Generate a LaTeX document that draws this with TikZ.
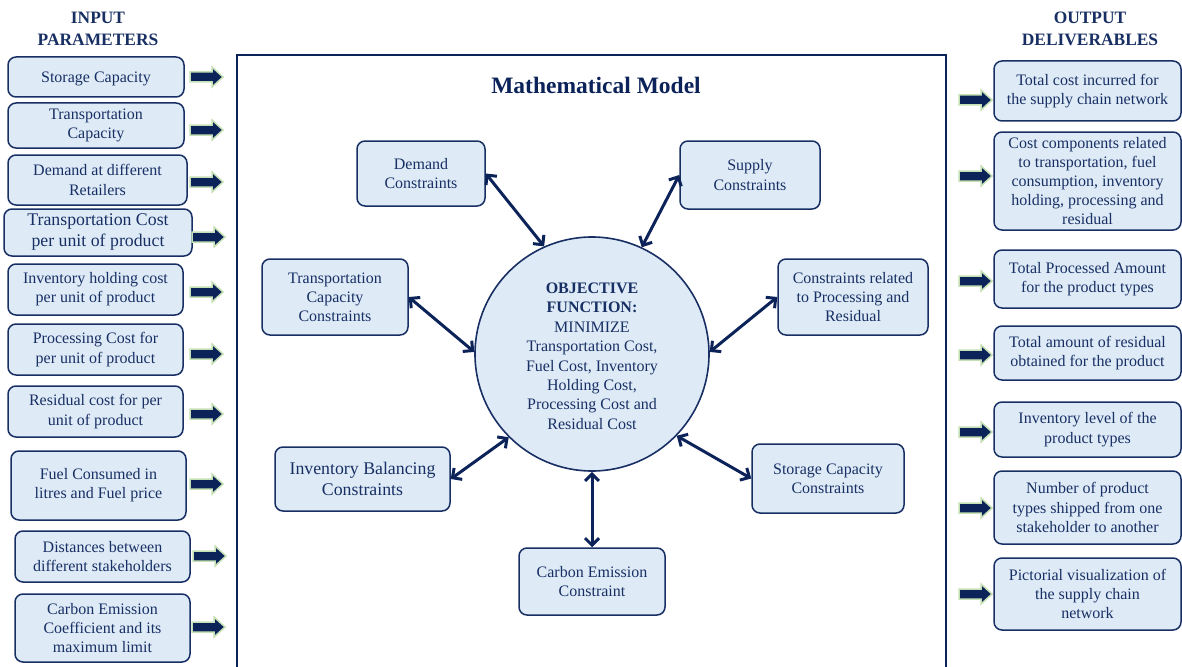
\documentclass[tikz,border=0pt]{standalone}
\usepackage{fontspec}
\setmainfont{Liberation Serif}
\usetikzlibrary{arrows.meta}
\definecolor{navy}{RGB}{24,47,100}
\definecolor{darknavy}{RGB}{12,35,90}
\definecolor{frameblue}{RGB}{12,35,90}
\definecolor{boxfill}{RGB}{222,235,247}
\definecolor{pgreen}{RGB}{197,224,180}
\tikzset{
  box/.style={rounded corners=8pt, draw=navy, fill=boxfill, line width=1.5pt, text=navy, align=center,
    inner sep=0pt, font=\fontsize{16}{19.2}\selectfont, execute at begin node={\rule{0pt}{15pt}}},
  bigbox/.style={box, font=\fontsize{17.8}{21}\selectfont},
  title/.style={text=navy, align=center, font=\bfseries\fontsize{17.4}{21.5}\selectfont},
  conn/.style={draw=darknavy, line width=3pt, {Straight Barb[length=7pt,width=14pt,line width=3pt]}-{Straight Barb[length=7pt,width=14pt,line width=3pt]}},
  blockarr/.pic={\path[fill=darknavy,draw=pgreen,line width=1.5pt,line join=miter]
     (0,-5) -- (22,-5) -- (22,-10) -- (33,0) -- (22,10) -- (22,5) -- (0,5) -- cycle;}
}
\begin{document}
\begin{tikzpicture}[x=1pt,y=-1pt]
\clip (0,0) rectangle (1182,666);
\fill[white] (0,0) rectangle (1182,666);

% frame
\draw[frameblue, line width=2.8pt] (237,700) -- (237,55) -- (946,55) -- (946,700);
\node[text=darknavy, font=\bfseries\fontsize{23.5}{28}\selectfont] (mm) at (596,85) {Mathematical Model};

% titles
\node[title] (tin) at (98,29) {INPUT\\PARAMETERS};
\node[title] (tout) at (1090,29) {OUTPUT\\DELIVERABLES};

% input boxes
\node[box, minimum width=176pt, minimum height=40pt] (i1) at (96,77) {Storage Capacity};
\node[box, minimum width=176pt, minimum height=45pt] (i2) at (96,125.5) {Transportation\\Capacity};
\node[box, minimum width=179pt, minimum height=50pt] (i3) at (97.5,180) {Demand at different\\Retailers};
\node[bigbox, minimum width=188pt, minimum height=47pt] (i4) at (98,232.5) {Transportation Cost\\per unit of product};
\node[box, minimum width=175pt, minimum height=51pt] (i5) at (95.5,289.5) {Inventory holding cost\\per unit of product};
\node[box, minimum width=175pt, minimum height=51pt] (i6) at (95.5,349.5) {Processing Cost for\\per unit of product};
\node[box, minimum width=175pt, minimum height=51pt] (i7) at (95.5,411.5) {Residual cost for per\\unit of product};
\node[box, minimum width=175pt, minimum height=69pt] (i8) at (98.5,485.5) {Fuel Consumed in\\litres and Fuel price};
\node[box, minimum width=175pt, minimum height=51pt] (i9) at (102.5,556.5) {Distances between\\different stakeholders};
\node[box, minimum width=175pt, minimum height=68pt] (i10) at (102.5,628) {Carbon Emission\\Coefficient and its\\maximum limit};

% input arrows
\foreach \xx/\yy in {190/77,190/130,190/182,192/237,190/292,190/354,190/414,190/484,193/556,192/627}
  \pic at (\xx,\yy) {blockarr};

% output boxes
\node[box, minimum width=187pt, minimum height=60pt] (o1) at (1087.5,91) {Total cost incurred for\\the supply chain network};
\node[box, minimum width=187pt, minimum height=98pt] (o2) at (1087.5,181) {Cost components related\\to transportation, fuel\\consumption, inventory\\holding, processing and\\residual};
\node[box, minimum width=187pt, minimum height=58pt] (o3) at (1087.5,279) {Total Processed Amount\\for the product types};
\node[box, minimum width=187pt, minimum height=54pt] (o4) at (1087.5,353) {Total amount of residual\\obtained for the product};
\node[box, minimum width=187pt, minimum height=55pt] (o5) at (1087.5,429.5) {Inventory level of the\\product types};
\node[box, minimum width=187pt, minimum height=73pt] (o6) at (1087.5,507.5) {Number of product\\types shipped from one\\stakeholder to another};
\node[box, minimum width=187pt, minimum height=72pt] (o7) at (1087.5,594) {Pictorial visualization of\\the supply chain\\network};

% output arrows
\foreach \yy in {100,176,281,355,432,508,594}
  \pic at (959,\yy) {blockarr};

% objective
\node[circle, draw=navy, fill=boxfill, line width=1.6pt, minimum size=234pt, inner sep=0pt,
  text=navy, align=center, font=\fontsize{16}{19.4}\selectfont] (obj) at (592,354)
  {\rule{0pt}{15pt}\textbf{OBJECTIVE}\\\textbf{FUNCTION:}\\MINIMIZE\\Transportation Cost,\\Fuel Cost, Inventory\\Holding Cost,\\Processing Cost and\\Residual Cost};

% constraints
\node[box, minimum width=128pt, minimum height=65pt] (dem) at (421,173.5) {Demand\\Constraints};
\node[box, minimum width=140pt, minimum height=68pt] (sup) at (750,175) {Supply\\Constraints};
\node[box, minimum width=146pt, minimum height=76pt] (tcc) at (335,297) {Transportation\\Capacity\\Constraints};
\node[box, minimum width=150pt, minimum height=76pt] (prc) at (853,297) {Constraints related\\to Processing and\\Residual};
\node[bigbox, minimum width=175pt, minimum height=64pt] (inv) at (362.5,479) {Inventory Balancing\\Constraints};
\node[box, minimum width=152pt, minimum height=69pt] (sto) at (828,478.5) {Storage Capacity\\Constraints};
\node[box, minimum width=146pt, minimum height=67pt] (car) at (592,581.5) {Carbon Emission\\Constraint};

% connectors
\draw[conn] (dem.east) -- (obj.114);
\draw[conn] (sup.west) -- (obj.65);
\draw[conn] (tcc.east) -- (obj.179);
\draw[conn] (prc.west) -- (obj.1);
\draw[conn] (inv.east) -- (obj.225);
\draw[conn] (sto.west) -- (obj.316);
\draw[conn] (car.north) -- (obj.south);
\end{tikzpicture}
\end{document}
